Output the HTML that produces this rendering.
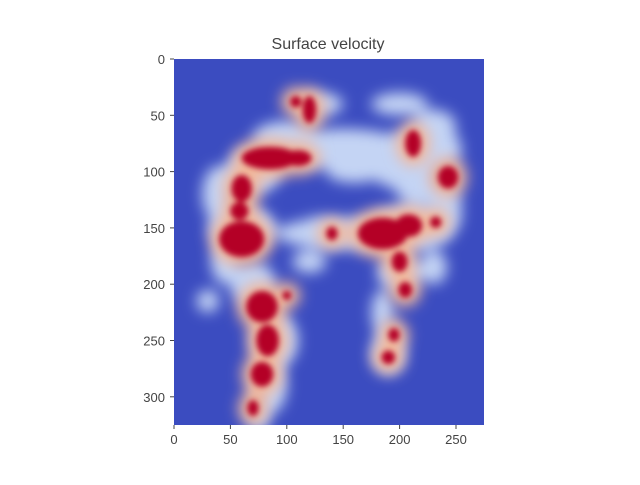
<!DOCTYPE html>
<html><head><meta charset="utf-8"><style>
body{margin:0;background:#fff;}
svg text{font-family:"Liberation Sans",sans-serif;fill:#444;}
</style></head><body>
<svg id="chart" width="640" height="480" xmlns="http://www.w3.org/2000/svg">
<defs>
<filter id="blur" x="-20%" y="-20%" width="140%" height="140%"><feGaussianBlur stdDeviation="7"/></filter>
<filter id="blur2" x="-20%" y="-20%" width="140%" height="140%"><feGaussianBlur stdDeviation="3"/></filter>
<clipPath id="clip"><rect x="174" y="59" width="310" height="366"/></clipPath>
</defs>
<text x="328" y="49" font-size="16" text-anchor="middle">Surface velocity</text>
<rect x="174" y="59" width="310" height="366" fill="#3b4cc0"/>
<g id="field" clip-path="url(#clip)"></g>
<g id="axes"></g>
</svg>
<script>
const xTicks=[0,50,100,150,200,250];
const yTicks=[0,50,100,150,200,250,300];
// light (moderate velocity) regions: x, y, rx, ry
const lightX=[150,100,200,230,70,150,210,130,60,70,90,85,190,200,30,215,240,120,160,230,40,45,130,240,230,185,75,200];
const lightY=[80,70,90,80,100,155,150,150,150,200,250,290,260,190,215,110,140,180,100,60,120,180,40,130,185,225,320,40];
const lightRX=[60,30,30,25,25,60,40,20,30,20,20,15,15,20,10,20,15,15,25,20,15,12,20,15,12,10,10,25];
const lightRY=[18,15,25,20,20,14,20,10,20,20,25,25,20,15,10,20,15,10,10,15,25,20,10,20,15,20,10,10];
// high velocity (red) cores: x, y, rx, ry
const redX=[120,108,85,110,60,58,60,78,83,78,70,185,208,205,212,243,200,195,190,100,140,232];
const redY=[45,38,88,88,115,135,160,220,250,280,310,155,148,205,75,105,180,245,265,210,155,145];
const redRX=[6,5,25,12,9,8,20,14,10,10,5,22,12,6,7,9,7,5,6,4,5,5];
const redRY=[12,5,10,7,12,8,16,14,14,11,7,14,10,7,12,10,9,6,6,4,6,5];
const X0=174,Y0=59,SX=1.128,SY=1.126;
const sx=v=>X0+v*SX, sy=v=>Y0+v*SY;
const ns="http://www.w3.org/2000/svg";
const field=document.getElementById('field');
function layer(filter){const g=document.createElementNS(ns,'g');g.setAttribute('filter',filter);field.appendChild(g);return g;}
const g1=layer('url(#blur)'),g2=layer('url(#blur)'),g3=layer('url(#blur2)');
function ell(g,cx,cy,rx,ry,fill,name){
 const e=document.createElementNS(ns,'ellipse');
 e.setAttribute('cx',sx(cx));e.setAttribute('cy',sy(cy));
 e.setAttribute('rx',rx*SX);e.setAttribute('ry',ry*SY);e.setAttribute('fill',fill);
 
 
 g.appendChild(e);}
for(let i=0;i<lightX.length;i++)ell(g1,lightX[i],lightY[i],lightRX[i],lightRY[i],'#c4d4f4','velocity-region');
for(let i=0;i<redX.length;i++)ell(g2,redX[i],redY[i],redRX[i]+8,redRY[i]+8,'#f2b89c','velocity-halo');
for(let i=0;i<redX.length;i++)ell(g3,redX[i],redY[i],redRX[i],redRY[i],'#b40426','velocity-core');
const axes=document.getElementById('axes');
xTicks.forEach(v=>{
 const l=document.createElementNS(ns,'line');l.setAttribute('x1',sx(v));l.setAttribute('x2',sx(v));l.setAttribute('y1',425);l.setAttribute('y2',429);l.setAttribute('stroke','#444');
 
 
 axes.appendChild(l);
 const t=document.createElementNS(ns,'text');t.setAttribute('x',sx(v));t.setAttribute('y',444);t.setAttribute('font-size','13');t.setAttribute('text-anchor','middle');t.textContent=v;
 
 
 axes.appendChild(t);});
yTicks.forEach(v=>{
 const l=document.createElementNS(ns,'line');l.setAttribute('x1',170);l.setAttribute('x2',174);l.setAttribute('y1',sy(v));l.setAttribute('y2',sy(v));l.setAttribute('stroke','#444');
 
 
 axes.appendChild(l);
 const t=document.createElementNS(ns,'text');t.setAttribute('x',165);t.setAttribute('y',sy(v)+5);t.setAttribute('font-size','13');t.setAttribute('text-anchor','end');t.textContent=v;
 
 
 axes.appendChild(t);});
</script>
</body></html>
